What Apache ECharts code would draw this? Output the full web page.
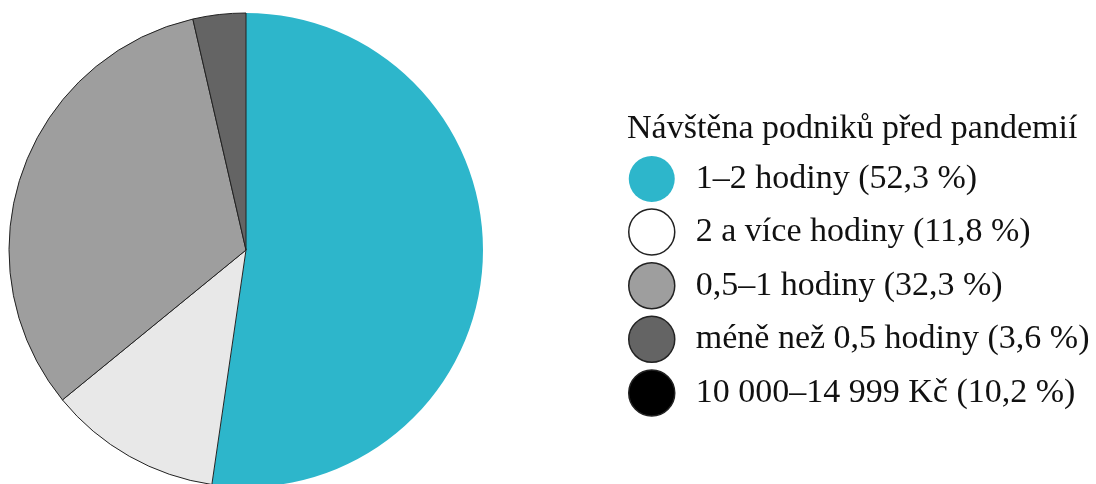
<!DOCTYPE html>
<html>
<head>
<meta charset="utf-8">
<script src="https://cdn.jsdelivr.net/npm/echarts@6/dist/echarts.min.js"></script>
<style>
html,body{margin:0;padding:0;background:#fff;}
#chart{width:1096px;height:484px;}
</style>
</head>
<body>
<div id="chart"></div>
<script>
const legendTitle = 'Návštěna podniků před pandemií';
const categories = ['1–2 hodiny (52,3 %)', '2 a více hodiny (11,8 %)', '0,5–1 hodiny (32,3 %)', 'méně než 0,5 hodiny (3,6 %)'];
const values = [52.3, 11.8, 32.3, 3.6];
const extraCategory = '10 000–14 999 Kč (10,2 %)';
const extraValue = 10.2;
const sliceColors = ['#2db6cb', '#e8e8e8', '#9e9e9e', '#646464'];
const legendIconColors = ['#2db6cb', '#ffffff', '#9e9e9e', '#646464', '#000000'];

const font = '"Liberation Serif", "Times New Roman", serif';

const chart = echarts.init(document.getElementById('chart'), null, {renderer: 'canvas'});

const pieData = categories.map((c, i) => ({
  name: c,
  value: values[i],
  itemStyle: {
    color: sliceColors[i],
    borderColor: '#222',
    borderWidth: i === 0 ? 0 : 1
  }
}));

const legendNames = categories.concat([extraCategory]);

chart.setOption({
  animation: false,
  backgroundColor: '#fff',
  title: {
    text: legendTitle,
    left: 622,
    top: 107,
    textStyle: {fontFamily: font, fontSize: 34, fontWeight: 'normal', color: '#111'}
  },
  legend: {
    orient: 'vertical',
    left: 623,
    top: 151,
    itemWidth: 46,
    itemHeight: 46,
    itemGap: 6.2,
    icon: 'circle',
    selectedMode: false,
    textStyle: {fontFamily: font, fontSize: 34, color: '#111', padding: [0, 0, 0, 16]},
    data: legendNames.map((n, i) => ({
      name: n,
      icon: 'circle',
      itemStyle: {
        color: legendIconColors[i],
        borderColor: '#222',
        borderWidth: i === 0 ? 0 : 1.5
      }
    }))
  },
  series: [
    {
      type: 'pie',
      center: [246, 250],
      radius: [0, 237],
      startAngle: 90,
      clockwise: true,
      label: {show: false},
      labelLine: {show: false},
      emphasis: {disabled: true},
      data: pieData
    },
    {
      type: 'pie',
      center: [246, 250],
      radius: [0, 0],
      label: {show: false},
      labelLine: {show: false},
      emphasis: {disabled: true},
      silent: true,
      data: [{name: extraCategory, value: extraValue, itemStyle: {color: '#000', borderWidth: 0}}]
    }
  ]
});
</script>
</body>
</html>
